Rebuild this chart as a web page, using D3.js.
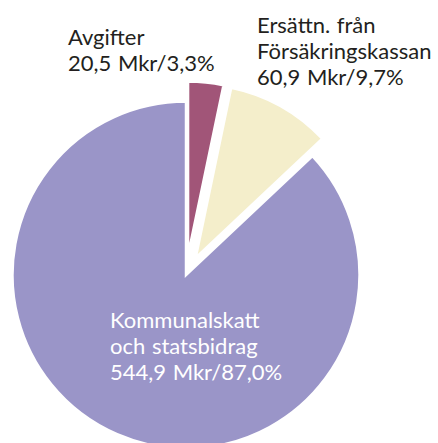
<!DOCTYPE html>
<meta charset="utf-8">
<style>
body { margin: 0; background: #fff; }
.lbl { font-family: Lato, "Open Sans", sans-serif; font-size: 22px; word-spacing: 1px; }
</style>
<svg width="438" height="443"></svg>
<script src="https://cdn.jsdelivr.net/npm/d3@7"></script>
<script>

// data
var categories = ["Avgifter", "Ersättn. från Försäkringskassan", "Kommunalskatt och statsbidrag"];
var values = [20.5, 60.9, 544.9];           // Mkr
var shares = ["3,3%", "9,7%", "87,0%"];
var labelLines = [
  ["Avgifter", "20,5 Mkr/3,3%"],
  ["Ersättn. från", "Försäkringskassan", "60,9 Mkr/9,7%"],
  ["Kommunalskatt", "och statsbidrag", "544,9 Mkr/87,0%"]
];

var colors = ["#a15578", "#f4eecb", "#9a95c8"];
var explode = [20, 20, 0];
var textFill = ["#231f20", "#231f20", "#ffffff"];
// label anchor, relative to pie centre
var labelAt = [[-118, -230], [71, -242], [-76, 53]];

var svg = d3.select("svg"),
    cx = 186, cy = 275, radius = 173.5,
    g = svg.append("g").attr("transform", "translate(" + cx + "," + cy + ")");

var pie = d3.pie().sort(null).value(function(d) { return d; });
var arc = d3.arc().innerRadius(0).outerRadius(radius);

var arcs = pie(values);

g.selectAll(".slice")
  .data(arcs)
  .enter().append("path")
    .attr("class", "slice")
    .attr("d", arc)
    .attr("fill", function(d, i) { return colors[i]; })
    .attr("stroke", "#fff")
    .attr("stroke-width", 2.5)
    .attr("stroke-linejoin", "miter")
    .attr("transform", function(d, i) {
      var a = (d.startAngle + d.endAngle) / 2;
      return "translate(" + (Math.sin(a) * explode[i]) + "," + (-Math.cos(a) * explode[i]) + ")";
    });

var lbl = g.selectAll(".lbl")
  .data(labelLines)
  .enter().append("text")
    .attr("class", "lbl")
    .attr("fill", function(d, i) { return textFill[i]; })
    .attr("transform", function(d, i) { return "translate(" + labelAt[i][0] + "," + labelAt[i][1] + ")"; });

lbl.selectAll("tspan")
  .data(function(d) { return d; })
  .enter().append("tspan")
    .attr("x", 0)
    .attr("y", function(d, j) { return j * 26; })
    .text(function(d) { return d; });

</script>
